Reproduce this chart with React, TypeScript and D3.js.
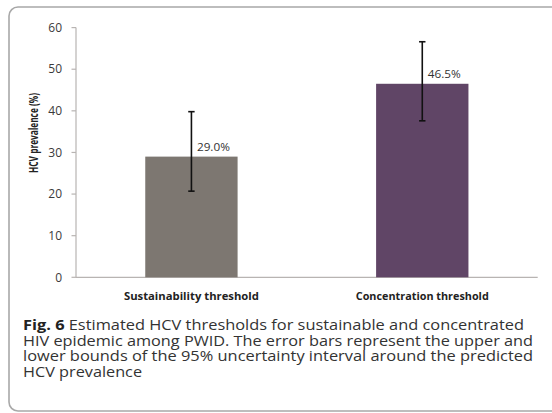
import React from "react";
import * as d3 from "d3";

const categories = ["Sustainability threshold", "Concentration threshold"];
const values = [29.0, 46.5];
const lower = [20.7, 37.6];
const upper = [39.8, 56.6];
const valueLabels = ["29.0%", "46.5%"];
const barColors = ["#7d7771", "#604566"];
const yTicks = [0, 10, 20, 30, 40, 50, 60];
const yLabel = "HCV prevalence (%)";
const captionBold = "Fig. 6";
const captionLines = [
  " Estimated HCV thresholds for sustainable and concentrated",
  "HIV epidemic among PWID. The error bars represent the upper and",
  "lower bounds of the 95% uncertainty interval around the predicted",
  "HCV prevalence",
];

const W = 552;
const H = 413;

export default function App() {
  const x = d3
    .scaleBand<string>()
    .domain(categories)
    .range([76, 537.7])
    .paddingInner(0.6)
    .paddingOuter(0.3);
  const y = d3.scaleLinear().domain([0, 60]).range([277.3, 27.6]);
  const bw = x.bandwidth();
  const capW = 3.2;
  const chartFont = "'Open Sans', sans-serif";
  const labelLens = [135, 133];
  const lineLens = [501, 510, 510, 119];
  const baselines = [330, 345.7, 361.3, 377];

  return (
    <svg
      width={W}
      height={H}
      style={{ position: "absolute", left: 0, top: 0, background: "#fff" }}
    >
      <rect
        x={9}
        y={7}
        width={600}
        height={404}
        rx={9}
        fill="#fff"
        stroke="#a8a8a8"
        strokeWidth={1.6}
      />
      <line x1={76} x2={76} y1={y(60)} y2={y(0)} stroke="#b8b4b2" strokeWidth={1.2} />
      <line x1={76} x2={537.7} y1={y(0)} y2={y(0)} stroke="#b8b4b2" strokeWidth={1.2} />
      {yTicks.map((t) => (
        <g key={t}>
          <line x1={71.5} x2={76} y1={y(t)} y2={y(t)} stroke="#b8b4b2" strokeWidth={1.2} />
          <text
            x={62}
            y={y(t)}
            dy="0.35em"
            textAnchor="end"
            fontFamily={chartFont}
            fontSize={12}
            fill="#3a3a3a"
          >
            {t}
          </text>
        </g>
      ))}
      <text
        transform={`translate(37.5,${133}) rotate(-90)`}
        textAnchor="middle"
        fontFamily={chartFont}
        fontWeight="bold"
        fontSize={12.5}
        fill="#222"
        textLength={80}
        lengthAdjust="spacingAndGlyphs"
      >
        {yLabel}
      </text>
      {categories.map((c, i) => {
        const cx = (x(c) as number) + bw / 2;
        return (
          <g key={c}>
            <rect
              x={x(c)}
              y={y(values[i])}
              width={bw}
              height={y(0) - y(values[i])}
              fill={barColors[i]}
            />
            <line x1={cx} x2={cx} y1={y(upper[i])} y2={y(lower[i])} stroke="#111" strokeWidth={1.6} />
            <line x1={cx - capW} x2={cx + capW} y1={y(upper[i])} y2={y(upper[i])} stroke="#111" strokeWidth={1.6} />
            <line x1={cx - capW} x2={cx + capW} y1={y(lower[i])} y2={y(lower[i])} stroke="#111" strokeWidth={1.6} />
            <text
              x={cx + 5.5}
              y={y(values[i]) - 6}
              fontFamily={chartFont}
              fontSize={11.5}
              fill="#333"
              textLength={33}
              lengthAdjust="spacingAndGlyphs"
            >
              {valueLabels[i]}
            </text>
            <text
              x={cx}
              y={300}
              textAnchor="middle"
              fontFamily={chartFont}
              fontWeight="bold"
              fontSize={11}
              fill="#222"
              textLength={labelLens[i]}
              lengthAdjust="spacingAndGlyphs"
            >
              {c}
            </text>
          </g>
        );
      })}
      {captionLines.map((l, i) => (
        <text
          key={i}
          x={23}
          y={baselines[i]}
          fontFamily={chartFont}
          fontSize={13.8}
          fill="#333"
          textLength={lineLens[i]}
          lengthAdjust="spacingAndGlyphs"
        >
          {i === 0 ? (
            <>
              <tspan fontWeight="bold" fill="#222">{captionBold}</tspan>
              <tspan>{l}</tspan>
            </>
          ) : (
            l
          )}
        </text>
      ))}
    </svg>
  );
}
